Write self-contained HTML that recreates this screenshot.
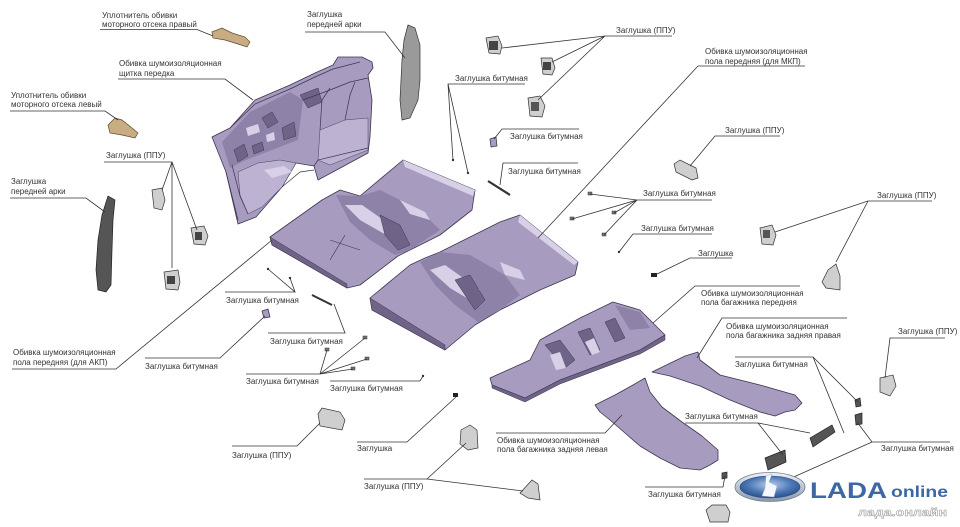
<!DOCTYPE html>
<html><head><meta charset="utf-8"><style>
html,body{margin:0;padding:0;background:#fff;}
svg{display:block;}
text{font-family:"Liberation Sans",Arial,sans-serif;font-size:8px;fill:#333;}
.l{fill:none;stroke:#333;stroke-width:0.8;}
.c{fill:#a89bc0;stroke:#3e3550;stroke-width:0.8;stroke-linejoin:round;}
.d{fill:#6f6387;stroke:#3e3550;stroke-width:0.5;}
.h{fill:#d8d0e6;stroke:none;}
.h2{fill:#bdb2d2;stroke:#4a405e;stroke-width:0.5;}
.m{fill:#8f82a9;stroke:none;}
.dl{fill:none;stroke:#3e3550;stroke-width:0.7;}
.g{fill:#9a9a9a;stroke:#333;stroke-width:0.7;}
.gd{fill:#555;stroke:#222;stroke-width:0.7;}
.gl{fill:#cfcfcf;stroke:#333;stroke-width:0.7;}
.t{fill:#c9ad82;stroke:#5a4a30;stroke-width:0.7;}
</style></head><body>
<svg width="960" height="527" viewBox="0 0 960 527" xmlns="http://www.w3.org/2000/svg">
<defs>
<radialGradient id="lb" cx="50%" cy="40%" r="60%"><stop offset="0" stop-color="#b9cdea"/><stop offset="0.6" stop-color="#4d78b6"/><stop offset="1" stop-color="#284f8c"/></radialGradient>
<linearGradient id="ls" x1="0" y1="0" x2="0" y2="1"><stop offset="0" stop-color="#eef2f6"/><stop offset="1" stop-color="#8a98aa"/></linearGradient>
</defs>

<!-- ===== Dash panel insulator ===== -->
<polygon class="c" points="212,137 230,128 255,100 290,85 315,73 333,65 338,57 362,57 372,62 373,68 368,75 372,100 370,137 368,153 318,180 314,166 296,163 282,187 256,217 238,224 226,172"/>
<polygon class="m" points="222,142 250,112 290,92 303,100 298,140 272,150 246,160 230,168"/>
<polygon class="h2" points="238,172 258,163 280,160 296,163 282,187 262,207 248,214 240,195"/>
<polygon class="h2" points="320,130 345,120 368,118 368,150 330,165 318,160"/>
<polygon class="h" points="264,170 284,166 292,172 272,178"/>
<polygon class="h" points="246,128 258,124 260,132 248,136"/>
<polygon class="h" points="266,135 274,132 275,140 267,142"/>
<polygon class="d" points="234,150 244,144 248,156 238,162"/>
<polygon class="d" points="262,118 272,112 278,122 268,128"/>
<polygon class="d" points="282,128 294,122 296,136 284,140"/>
<polygon class="d" points="300,95 318,88 322,102 308,108"/>
<polygon class="d" points="252,146 262,142 264,150 254,154"/>
<polyline class="dl" points="230,128 255,104 290,89 315,77 333,69 360,62"/>
<polyline class="dl" points="303,100 330,90 350,82 368,78"/>
<polyline class="dl" points="320,130 322,100 330,88"/>
<polyline class="dl" points="345,120 350,95 355,82"/>
<polyline class="dl" points="226,172 238,220"/>
<polyline class="dl" points="232,165 240,196 248,214"/>
<polyline class="dl" points="314,166 318,160 368,148"/>
<polyline class="dl" points="282,187 300,172 314,170"/>

<!-- ===== Front floor (AKP) ===== -->
<polygon class="c" points="270,237 322,200 340,190 360,196 403,160 475,190 472,210 440,235 410,250 398,256 360,285 347,288 272,245"/>
<polygon class="d" points="270,237 347,284 347,288 272,245"/>
<polygon class="h" points="403,160 475,190 473,196 405,167"/>
<polygon class="m" points="336,195 360,196 380,190 420,210 440,230 410,250 395,255 370,240 350,222"/>
<polygon class="h" points="345,205 362,205 395,228 388,236 360,220"/>
<polygon class="d" points="380,215 400,225 410,245 398,250 385,235"/>
<polygon class="h" points="400,200 425,212 430,220 410,214"/>
<path class="l" d="M330,260 L345,235 M360,250 L330,240" style="stroke:#3e3550;stroke-width:0.6"/>

<!-- ===== Front floor (MKP) ===== -->
<polygon class="c" points="370,298 410,265 425,258 440,252 500,222 520,215 578,262 575,275 540,290 500,310 475,325 445,350 372,310"/>
<polygon class="d" points="370,298 445,345 445,350 372,310"/>
<polygon class="h" points="520,215 578,262 574,265 518,222"/>
<polygon class="m" points="420,262 440,252 470,255 505,275 520,295 500,310 478,322 455,305 435,285"/>
<polygon class="h" points="430,270 445,265 480,290 470,300 450,288"/>
<polygon class="d" points="455,280 470,275 485,300 475,310"/>
<polygon class="h" points="500,262 520,270 525,280 505,275"/>

<!-- ===== Trunk front ===== -->
<polygon class="c" points="490,378 530,360 540,340 580,318 613,302 640,310 655,325 665,335 640,350 600,365 560,380 525,398 492,385"/>
<polygon class="d" points="545,345 560,340 575,360 565,368"/>
<polygon class="d" points="578,332 590,328 600,350 590,355"/>
<polygon class="d" points="605,322 615,318 625,338 615,342"/>
<polygon class="h" points="550,355 560,352 566,368 556,370"/>
<polygon class="h" points="585,342 594,338 600,352 592,355"/>
<polygon class="m" points="615,305 640,312 650,328 630,330"/>
<polygon class="d" points="492,385 525,398 560,380 600,365 640,350 665,335 665,340 640,354 600,369 560,384 525,402 492,388"/>

<!-- ===== Trunk rear right ===== -->
<polygon class="c" points="652,372 685,356 698,352 700,360 720,375 760,385 795,395 802,403 795,410 785,412 775,416 760,412 730,400 700,386 670,376"/>
<!-- ===== Trunk rear left ===== -->
<polygon class="c" points="595,405 615,395 633,385 645,378 650,392 662,407 682,422 702,436 718,450 718,460 710,465 700,470 680,468 660,458 640,446 625,433 610,420 600,412"/>

<!-- ===== Parts ===== -->
<polygon class="t" points="212,32 222,28 232,33 245,37 250,42 247,47 238,44 225,40 213,38"/>
<polygon class="t" points="108,125 115,118 122,120 132,128 138,133 135,138 122,135 110,133"/>
<polygon class="gl" points="152,190 162,188 165,200 162,210 154,208"/>
<polygon class="gl" points="191,228 204,226 208,236 205,245 194,244"/>
<rect x="195" y="232" width="7" height="8" fill="#444"/>
<polygon class="gl" points="164,272 178,270 180,282 178,290 166,289"/>
<rect x="167" y="276" width="8" height="8" fill="#444"/>
<polygon class="gd" points="108,196 115,200 113,220 112,250 111,285 106,292 98,290 96,270 98,240 102,215"/>
<polygon class="g" points="408,25 415,28 420,45 420,80 418,100 410,118 402,120 400,100 402,60 404,40"/>
<polygon class="gl" points="486,38 498,36 502,46 500,54 489,53"/>
<rect x="489" y="41" width="9" height="9" fill="#444"/>
<polygon class="gl" points="541,58 552,58 555,68 552,75 543,74"/>
<rect x="543" y="62" width="8" height="8" fill="#444"/>
<polygon class="gl" points="528,98 540,96 545,106 542,117 530,116"/>
<rect x="531" y="102" width="8" height="9" fill="#555"/>
<circle cx="453" cy="160" r="1.2" fill="#333"/>
<circle cx="468" cy="173" r="1.2" fill="#333"/>
<polygon class="c" points="490,139 496,137 497,146 491,147"/>
<line x1="488" y1="181" x2="510" y2="195" stroke="#333" stroke-width="2.2"/>
<polygon class="gl" points="674,164 680,160 696,168 698,178 692,180 676,172"/>
<g fill="#777" stroke="#333" stroke-width="0.5">
<rect x="588" y="192" width="4" height="3"/><rect x="570" y="217" width="4" height="3"/><rect x="612" y="211" width="4" height="3"/><rect x="602" y="233" width="4" height="3"/>
<rect x="325" y="348" width="4" height="3"/><rect x="363" y="336" width="4" height="3"/><rect x="365" y="357" width="4" height="3"/><rect x="351" y="367" width="4" height="3"/>
</g>
<circle cx="619" cy="252" r="1.2" fill="#333"/>
<rect x="651" y="273" width="6" height="4" fill="#222"/>
<polygon class="gl" points="760,228 772,225 776,235 773,245 762,244"/>
<rect x="763" y="230" width="7" height="8" fill="#555"/>
<polygon class="gl" points="828,270 836,264 840,276 840,290 826,288 822,282"/>
<polygon class="gl" points="880,378 893,375 896,386 890,396 880,392"/>
<polygon class="gd" points="855,400 860,398 861,406 856,407"/>
<polygon class="gd" points="855,415 862,413 862,424 856,425"/>
<polygon class="gd" points="810,438 832,425 835,432 813,447"/>
<polygon class="gd" points="765,458 785,450 786,462 768,470"/>
<polygon class="gd" points="722,473 727,472 727,478 722,479"/>
<polygon class="gl" points="706,510 712,505 726,505 730,512 728,522 710,522"/>
<circle cx="268" cy="269" r="1.2" fill="#333"/>
<circle cx="290" cy="278" r="1.2" fill="#333"/>
<line x1="312" y1="295" x2="332" y2="305" stroke="#333" stroke-width="2"/>
<polygon class="c" points="262,311 268,309 270,317 264,318"/>
<circle cx="423" cy="376" r="1.2" fill="#333"/>
<polygon class="gl" points="318,414 322,408 340,412 345,420 342,430 320,426"/>
<rect x="453" y="393" width="5" height="4" fill="#222"/>
<polygon class="gl" points="461,430 470,425 477,430 478,448 468,450 460,444"/>
<polygon class="gl" points="520,493 532,480 538,484 540,500 528,498"/>

<!-- ===== Leader lines ===== -->
<g class="l">
<path d="M100,29.5 H197 L213,36"/>
<path d="M118,79 H225 L253,100"/>
<path d="M10,111 H105 L118,120"/>
<path d="M104,162 H172 L162,190 M172,162 L197,230 M172,162 V268"/>
<path d="M10,198 H86 L105,212"/>
<path d="M305,32 H385 L405,58"/>
<path d="M672,36 H605 L502,48 M605,36 L552,62 M605,36 L538,100"/>
<path d="M525,84 H448 L453,160 M448,84 L468,173"/>
<path d="M805,66 H698 L538,238"/>
<path d="M579,129 H502 L494,139"/>
<path d="M578,163 H503 L500,185"/>
<path d="M780,136 H715 L690,166"/>
<path d="M712,200 H637 L590,194 M637,200 L572,219 M637,200 L614,213 M637,200 L604,235"/>
<path d="M712,234 H633 L619,252"/>
<path d="M732,258 H690 L655,275"/>
<path d="M932,201 H868 L775,232 M868,201 L836,262"/>
<path d="M800,286 H695 L653,323"/>
<path d="M847,318 H722 L697,358"/>
<path d="M735,357 H813 L858,402 M813,357 L844,433"/>
<path d="M945,338 H890 L885,378"/>
<path d="M950,442 H872 L857,422 M872,442 L787,480"/>
<path d="M685,423 H758 L810,433 M758,423 L783,455"/>
<path d="M645,487 H723 L725,476"/>
<path d="M12,369 H116 L272,240"/>
<path d="M225,292 H295 L268,269 M295,292 L290,278"/>
<path d="M268,333 H345 L334,304"/>
<path d="M145,358 H220 L265,316"/>
<path d="M246,374 H320 L327,350 M320,374 L365,338 M320,374 L367,359 M320,374 L353,369"/>
<path d="M330,381 H420 L423,376"/>
<path d="M232,446 H297 L320,423"/>
<path d="M357,442 H407 L456,397"/>
<path d="M496,433 H605 L622,415"/>
<path d="M364,479 H427 L466,443 M427,479 L523,491"/>
</g>

<!-- ===== Labels ===== -->
<text x="102" y="18">Уплотнитель обивки</text>
<text x="102" y="27">моторного отсека правый</text>
<text x="119" y="66">Обивка шумоизоляционная</text>
<text x="119" y="76">щитка передка</text>
<text x="11" y="98">Уплотнитель обивки</text>
<text x="11" y="107">моторного отсека левый</text>
<text x="106" y="158">Заглушка (ППУ)</text>
<text x="11" y="184">Заглушка</text>
<text x="11" y="194">передней арки</text>
<text x="307" y="17">Заглушка</text>
<text x="307" y="27">передней арки</text>
<text x="616" y="33">Заглушка (ППУ)</text>
<text x="455" y="81">Заглушка битумная</text>
<text x="705" y="54">Обивка шумоизоляционная</text>
<text x="705" y="64">пола передняя (для МКП)</text>
<text x="510" y="139">Заглушка битумная</text>
<text x="508" y="174">Заглушка битумная</text>
<text x="725" y="133">Заглушка (ППУ)</text>
<text x="643" y="196">Заглушка битумная</text>
<text x="641" y="231">Заглушка битумная</text>
<text x="698" y="256">Заглушка</text>
<text x="877" y="198">Заглушка (ППУ)</text>
<text x="701" y="296">Обивка шумоизоляционная</text>
<text x="701" y="305">пола багажника передняя</text>
<text x="726" y="329">Обивка шумоизоляционная</text>
<text x="726" y="338">пола багажника задняя правая</text>
<text x="735" y="367">Заглушка битумная</text>
<text x="898" y="334">Заглушка (ППУ)</text>
<text x="881" y="451">Заглушка битумная</text>
<text x="685" y="419">Заглушка битумная</text>
<text x="648" y="497">Заглушка битумная</text>
<text x="13" y="355">Обивка шумоизоляционная</text>
<text x="13" y="365">пола передняя (для АКП)</text>
<text x="226" y="303">Заглушка битумная</text>
<text x="270" y="344">Заглушка битумная</text>
<text x="145" y="369">Заглушка битумная</text>
<text x="246" y="384">Заглушка битумная</text>
<text x="330" y="391">Заглушка битумная</text>
<text x="232" y="458">Заглушка (ППУ)</text>
<text x="357" y="451">Заглушка</text>
<text x="497" y="443">Обивка шумоизоляционная</text>
<text x="497" y="452">пола багажника задняя левая</text>
<text x="364" y="489">Заглушка (ППУ)</text>

<!-- ===== Logo ===== -->
<ellipse cx="770" cy="487" rx="35" ry="14.5" fill="url(#ls)" stroke="#6f7f93" stroke-width="0.8"/>
<ellipse cx="770" cy="487" rx="30" ry="11" fill="url(#lb)" stroke="#2d4f85" stroke-width="0.6"/>
<path d="M766,476 L772,474 L769,482 L777,486 L774,497 L762,496 L765,488 Z" fill="#f4f7fb" stroke="#9fb0c6" stroke-width="0.5"/>
<text x="810" y="498" style="font-size:22px;font-weight:bold;fill:#3d68a6" textLength="77" lengthAdjust="spacingAndGlyphs">LADA</text>
<text x="891" y="497" style="font-size:16px;font-weight:bold;fill:#3d68a6" textLength="57" lengthAdjust="spacingAndGlyphs">online</text>
<text x="858" y="516" style="font-size:11px;font-weight:bold;fill:#fff;stroke:#9a9a9a;stroke-width:0.5" textLength="89" lengthAdjust="spacingAndGlyphs">лада.онлайн</text>
</svg>
</body></html>
